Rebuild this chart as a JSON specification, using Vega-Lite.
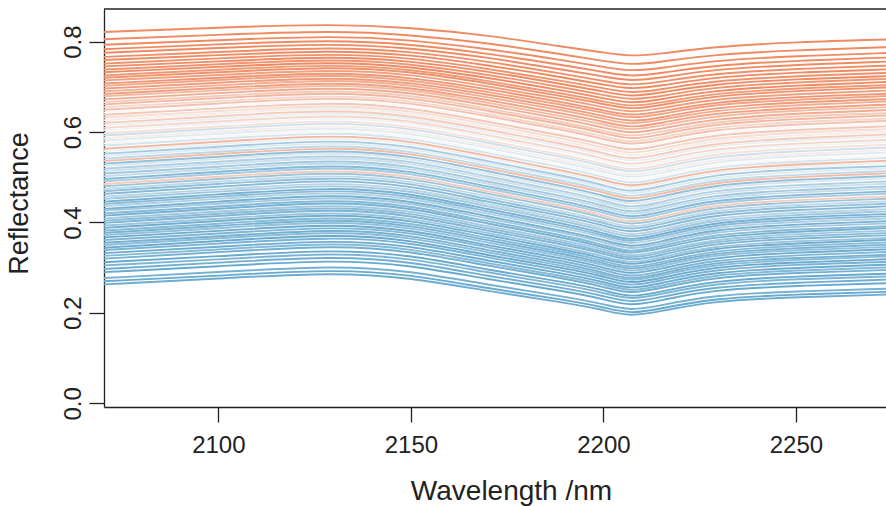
{
"$schema": "https://vega.github.io/schema/vega-lite/v6.json",
"width": 782, "height": 398,
"autosize": {"type": "none"},
"padding": {"left": 104, "top": 9, "right": 0, "bottom": 99},
"background": "white",
"config": {"view": {"stroke": null}, "font": "Liberation Sans"},
"datasets": {
"wl": [{"k":"2070","w":2070},{"k":"2100","w":2100},{"k":"2130","w":2130},{"k":"2150","w":2150},{"k":"2170","w":2170},{"k":"2190","w":2190},{"k":"2200","w":2200},{"k":"2207","w":2207},{"k":"2215","w":2215},{"k":"2228","w":2228},{"k":"2250","w":2250},{"k":"2275","w":2275}],
"sp": [
{"id":1,"c":0.02,"2070":0.263,"2100":0.276,"2130":0.290,"2150":0.278,"2170":0.248,"2190":0.223,"2200":0.207,"2207":0.191,"2215":0.204,"2228":0.226,"2250":0.235,"2275":0.241},
{"id":2,"c":0.0,"2070":0.270,"2100":0.282,"2130":0.297,"2150":0.285,"2170":0.254,"2190":0.229,"2200":0.213,"2207":0.197,"2215":0.210,"2228":0.232,"2250":0.241,"2275":0.247},
{"id":3,"c":0.05,"2070":0.277,"2100":0.290,"2130":0.305,"2150":0.293,"2170":0.262,"2190":0.236,"2200":0.220,"2207":0.204,"2215":0.217,"2228":0.239,"2250":0.248,"2275":0.254},
{"id":4,"c":0.0,"2070":0.290,"2100":0.303,"2130":0.318,"2150":0.306,"2170":0.274,"2190":0.248,"2200":0.231,"2207":0.214,"2215":0.228,"2228":0.251,"2250":0.260,"2275":0.266},
{"id":5,"c":0.03,"2070":0.297,"2100":0.311,"2130":0.326,"2150":0.314,"2170":0.281,"2190":0.255,"2200":0.238,"2207":0.221,"2215":0.235,"2228":0.258,"2250":0.267,"2275":0.274},
{"id":6,"c":0.08,"2070":0.305,"2100":0.318,"2130":0.334,"2150":0.321,"2170":0.289,"2190":0.262,"2200":0.245,"2207":0.228,"2215":0.242,"2228":0.265,"2250":0.275,"2275":0.281},
{"id":7,"c":0.0,"2070":0.312,"2100":0.325,"2130":0.341,"2150":0.328,"2170":0.295,"2190":0.268,"2200":0.251,"2207":0.233,"2215":0.247,"2228":0.271,"2250":0.281,"2275":0.287},
{"id":8,"c":0.04,"2070":0.320,"2100":0.334,"2130":0.350,"2150":0.337,"2170":0.304,"2190":0.276,"2200":0.258,"2207":0.241,"2215":0.255,"2228":0.279,"2250":0.289,"2275":0.295},
{"id":9,"c":0.1,"2070":0.326,"2100":0.340,"2130":0.356,"2150":0.343,"2170":0.309,"2190":0.281,"2200":0.264,"2207":0.246,"2215":0.260,"2228":0.285,"2250":0.294,"2275":0.301},
{"id":10,"c":0.02,"2070":0.332,"2100":0.346,"2130":0.362,"2150":0.349,"2170":0.315,"2190":0.287,"2200":0.269,"2207":0.251,"2215":0.266,"2228":0.290,"2250":0.300,"2275":0.307},
{"id":11,"c":0.06,"2070":0.339,"2100":0.353,"2130":0.369,"2150":0.356,"2170":0.322,"2190":0.293,"2200":0.275,"2207":0.257,"2215":0.272,"2228":0.296,"2250":0.307,"2275":0.313},
{"id":12,"c":0.0,"2070":0.344,"2100":0.359,"2130":0.375,"2150":0.362,"2170":0.327,"2190":0.299,"2200":0.281,"2207":0.263,"2215":0.277,"2228":0.302,"2250":0.312,"2275":0.319},
{"id":13,"c":0.12,"2070":0.350,"2100":0.365,"2130":0.381,"2150":0.368,"2170":0.333,"2190":0.304,"2200":0.286,"2207":0.268,"2215":0.283,"2228":0.307,"2250":0.318,"2275":0.325},
{"id":14,"c":0.05,"2070":0.355,"2100":0.369,"2130":0.386,"2150":0.373,"2170":0.338,"2190":0.309,"2200":0.290,"2207":0.272,"2215":0.287,"2228":0.312,"2250":0.322,"2275":0.329},
{"id":15,"c":0.08,"2070":0.361,"2100":0.375,"2130":0.392,"2150":0.379,"2170":0.344,"2190":0.314,"2200":0.296,"2207":0.277,"2215":0.292,"2228":0.317,"2250":0.328,"2275":0.335},
{"id":16,"c":0.02,"2070":0.367,"2100":0.381,"2130":0.398,"2150":0.384,"2170":0.349,"2190":0.320,"2200":0.301,"2207":0.283,"2215":0.298,"2228":0.323,"2250":0.334,"2275":0.341},
{"id":17,"c":0.15,"2070":0.372,"2100":0.387,"2130":0.404,"2150":0.390,"2170":0.355,"2190":0.325,"2200":0.307,"2207":0.288,"2215":0.303,"2228":0.329,"2250":0.339,"2275":0.346},
{"id":18,"c":0.06,"2070":0.377,"2100":0.392,"2130":0.409,"2150":0.395,"2170":0.360,"2190":0.330,"2200":0.311,"2207":0.293,"2215":0.308,"2228":0.333,"2250":0.344,"2275":0.351},
{"id":19,"c":0.1,"2070":0.382,"2100":0.397,"2130":0.414,"2150":0.400,"2170":0.365,"2190":0.335,"2200":0.316,"2207":0.297,"2215":0.312,"2228":0.338,"2250":0.349,"2275":0.356},
{"id":20,"c":0.03,"2070":0.388,"2100":0.403,"2130":0.420,"2150":0.406,"2170":0.371,"2190":0.340,"2200":0.321,"2207":0.303,"2215":0.318,"2228":0.344,"2250":0.354,"2275":0.362},
{"id":21,"c":0.18,"2070":0.393,"2100":0.408,"2130":0.425,"2150":0.411,"2170":0.376,"2190":0.345,"2200":0.326,"2207":0.307,"2215":0.323,"2228":0.348,"2250":0.359,"2275":0.366},
{"id":22,"c":0.08,"2070":0.399,"2100":0.414,"2130":0.431,"2150":0.417,"2170":0.381,"2190":0.351,"2200":0.332,"2207":0.313,"2215":0.328,"2228":0.354,"2250":0.365,"2275":0.372},
{"id":23,"c":0.12,"2070":0.404,"2100":0.419,"2130":0.436,"2150":0.422,"2170":0.386,"2190":0.356,"2200":0.336,"2207":0.318,"2215":0.333,"2228":0.359,"2250":0.370,"2275":0.377},
{"id":24,"c":0.2,"2070":0.409,"2100":0.424,"2130":0.441,"2150":0.427,"2170":0.391,"2190":0.360,"2200":0.341,"2207":0.322,"2215":0.337,"2228":0.363,"2250":0.375,"2275":0.382},
{"id":25,"c":0.05,"2070":0.415,"2100":0.430,"2130":0.447,"2150":0.433,"2170":0.397,"2190":0.366,"2200":0.346,"2207":0.328,"2215":0.343,"2228":0.369,"2250":0.380,"2275":0.388},
{"id":26,"c":0.1,"2070":0.420,"2100":0.435,"2130":0.452,"2150":0.438,"2170":0.402,"2190":0.371,"2200":0.351,"2207":0.332,"2215":0.348,"2228":0.374,"2250":0.385,"2275":0.392},
{"id":27,"c":0.2,"2070":0.426,"2100":0.441,"2130":0.458,"2150":0.444,"2170":0.408,"2190":0.377,"2200":0.357,"2207":0.338,"2215":0.353,"2228":0.380,"2250":0.391,"2275":0.398},
{"id":28,"c":0.05,"2070":0.430,"2100":0.446,"2130":0.463,"2150":0.449,"2170":0.413,"2190":0.381,"2200":0.362,"2207":0.343,"2215":0.358,"2228":0.385,"2250":0.396,"2275":0.403},
{"id":29,"c":0.25,"2070":0.436,"2100":0.452,"2130":0.469,"2150":0.455,"2170":0.419,"2190":0.387,"2200":0.368,"2207":0.349,"2215":0.364,"2228":0.390,"2250":0.402,"2275":0.409},
{"id":30,"c":0.12,"2070":0.441,"2100":0.457,"2130":0.474,"2150":0.460,"2170":0.424,"2190":0.392,"2200":0.372,"2207":0.354,"2215":0.369,"2228":0.395,"2250":0.407,"2275":0.414},
{"id":31,"c":0.05,"2070":0.446,"2100":0.462,"2130":0.479,"2150":0.465,"2170":0.429,"2190":0.397,"2200":0.377,"2207":0.358,"2215":0.374,"2228":0.400,"2250":0.412,"2275":0.419},
{"id":32,"c":0.2,"2070":0.452,"2100":0.468,"2130":0.485,"2150":0.471,"2170":0.435,"2190":0.403,"2200":0.383,"2207":0.364,"2215":0.379,"2228":0.406,"2250":0.417,"2275":0.425},
{"id":33,"c":0.28,"2070":0.457,"2100":0.473,"2130":0.490,"2150":0.476,"2170":0.440,"2190":0.408,"2200":0.388,"2207":0.369,"2215":0.384,"2228":0.411,"2250":0.422,"2275":0.430},
{"id":34,"c":0.1,"2070":0.463,"2100":0.479,"2130":0.496,"2150":0.482,"2170":0.445,"2190":0.414,"2200":0.394,"2207":0.375,"2215":0.390,"2228":0.417,"2250":0.428,"2275":0.436},
{"id":35,"c":0.15,"2070":0.469,"2100":0.485,"2130":0.502,"2150":0.488,"2170":0.451,"2190":0.419,"2200":0.400,"2207":0.381,"2215":0.396,"2228":0.423,"2250":0.434,"2275":0.442},
{"id":36,"c":0.3,"2070":0.474,"2100":0.490,"2130":0.507,"2150":0.493,"2170":0.457,"2190":0.424,"2200":0.405,"2207":0.386,"2215":0.401,"2228":0.428,"2250":0.439,"2275":0.447},
{"id":37,"c":0.18,"2070":0.480,"2100":0.496,"2130":0.513,"2150":0.499,"2170":0.463,"2190":0.431,"2200":0.411,"2207":0.392,"2215":0.407,"2228":0.434,"2250":0.445,"2275":0.453},
{"id":38,"c":0.7,"2070":0.485,"2100":0.501,"2130":0.518,"2150":0.504,"2170":0.468,"2190":0.436,"2200":0.416,"2207":0.397,"2215":0.412,"2228":0.439,"2250":0.450,"2275":0.458},
{"id":39,"c":0.22,"2070":0.491,"2100":0.507,"2130":0.524,"2150":0.510,"2170":0.474,"2190":0.442,"2200":0.422,"2207":0.403,"2215":0.418,"2228":0.445,"2250":0.456,"2275":0.464},
{"id":40,"c":0.1,"2070":0.496,"2100":0.512,"2130":0.529,"2150":0.515,"2170":0.479,"2190":0.447,"2200":0.427,"2207":0.408,"2215":0.423,"2228":0.450,"2250":0.461,"2275":0.469},
{"id":41,"c":0.32,"2070":0.502,"2100":0.518,"2130":0.535,"2150":0.521,"2170":0.485,"2190":0.453,"2200":0.433,"2207":0.414,"2215":0.429,"2228":0.456,"2250":0.467,"2275":0.475},
{"id":42,"c":0.2,"2070":0.508,"2100":0.523,"2130":0.540,"2150":0.526,"2170":0.490,"2190":0.458,"2200":0.438,"2207":0.419,"2215":0.434,"2228":0.461,"2250":0.472,"2275":0.480},
{"id":43,"c":0.35,"2070":0.514,"2100":0.529,"2130":0.546,"2150":0.532,"2170":0.496,"2190":0.464,"2200":0.444,"2207":0.425,"2215":0.440,"2228":0.467,"2250":0.478,"2275":0.486},
{"id":44,"c":0.25,"2070":0.519,"2100":0.534,"2130":0.551,"2150":0.537,"2170":0.501,"2190":0.469,"2200":0.449,"2207":0.430,"2215":0.445,"2228":0.472,"2250":0.483,"2275":0.491},
{"id":45,"c":0.4,"2070":0.525,"2100":0.540,"2130":0.557,"2150":0.543,"2170":0.507,"2190":0.475,"2200":0.455,"2207":0.437,"2215":0.451,"2228":0.478,"2250":0.490,"2275":0.498},
{"id":46,"c":0.15,"2070":0.530,"2100":0.545,"2130":0.562,"2150":0.548,"2170":0.513,"2190":0.480,"2200":0.460,"2207":0.442,"2215":0.457,"2228":0.483,"2250":0.495,"2275":0.503},
{"id":47,"c":0.78,"2070":0.536,"2100":0.551,"2130":0.568,"2150":0.554,"2170":0.519,"2190":0.486,"2200":0.467,"2207":0.448,"2215":0.463,"2228":0.489,"2250":0.501,"2275":0.509},
{"id":48,"c":0.3,"2070":0.541,"2100":0.556,"2130":0.573,"2150":0.559,"2170":0.524,"2190":0.492,"2200":0.472,"2207":0.454,"2215":0.468,"2228":0.494,"2250":0.506,"2275":0.514},
{"id":49,"c":0.42,"2070":0.547,"2100":0.562,"2130":0.579,"2150":0.565,"2170":0.530,"2190":0.498,"2200":0.478,"2207":0.460,"2215":0.474,"2228":0.500,"2250":0.512,"2275":0.520},
{"id":50,"c":0.22,"2070":0.552,"2100":0.567,"2130":0.584,"2150":0.570,"2170":0.535,"2190":0.503,"2200":0.483,"2207":0.465,"2215":0.480,"2228":0.506,"2250":0.518,"2275":0.525},
{"id":51,"c":0.45,"2070":0.558,"2100":0.573,"2130":0.590,"2150":0.576,"2170":0.542,"2190":0.509,"2200":0.490,"2207":0.472,"2215":0.486,"2228":0.512,"2250":0.524,"2275":0.532},
{"id":52,"c":0.8,"2070":0.563,"2100":0.578,"2130":0.595,"2150":0.581,"2170":0.547,"2190":0.514,"2200":0.495,"2207":0.477,"2215":0.491,"2228":0.517,"2250":0.529,"2275":0.537},
{"id":53,"c":0.38,"2070":0.570,"2100":0.585,"2130":0.601,"2150":0.587,"2170":0.553,"2190":0.521,"2200":0.501,"2207":0.483,"2215":0.497,"2228":0.523,"2250":0.535,"2275":0.543},
{"id":54,"c":0.5,"2070":0.575,"2100":0.590,"2130":0.606,"2150":0.592,"2170":0.558,"2190":0.526,"2200":0.507,"2207":0.489,"2215":0.503,"2228":0.528,"2250":0.540,"2275":0.548},
{"id":55,"c":0.42,"2070":0.581,"2100":0.596,"2130":0.612,"2150":0.598,"2170":0.565,"2190":0.532,"2200":0.513,"2207":0.496,"2215":0.509,"2228":0.535,"2250":0.547,"2275":0.555},
{"id":56,"c":0.55,"2070":0.586,"2100":0.601,"2130":0.617,"2150":0.603,"2170":0.570,"2190":0.538,"2200":0.518,"2207":0.501,"2215":0.515,"2228":0.540,"2250":0.552,"2275":0.560},
{"id":57,"c":0.35,"2070":0.592,"2100":0.607,"2130":0.623,"2150":0.609,"2170":0.576,"2190":0.544,"2200":0.525,"2207":0.508,"2215":0.521,"2228":0.546,"2250":0.558,"2275":0.566},
{"id":58,"c":0.6,"2070":0.597,"2100":0.612,"2130":0.628,"2150":0.614,"2170":0.581,"2190":0.549,"2200":0.530,"2207":0.513,"2215":0.527,"2228":0.552,"2250":0.564,"2275":0.572},
{"id":59,"c":0.48,"2070":0.604,"2100":0.618,"2130":0.634,"2150":0.621,"2170":0.588,"2190":0.556,"2200":0.537,"2207":0.520,"2215":0.533,"2228":0.558,"2250":0.570,"2275":0.578},
{"id":60,"c":0.65,"2070":0.609,"2100":0.623,"2130":0.639,"2150":0.626,"2170":0.593,"2190":0.561,"2200":0.542,"2207":0.525,"2215":0.539,"2228":0.563,"2250":0.575,"2275":0.583},
{"id":61,"c":0.45,"2070":0.615,"2100":0.629,"2130":0.645,"2150":0.632,"2170":0.599,"2190":0.568,"2200":0.549,"2207":0.532,"2215":0.545,"2228":0.570,"2250":0.582,"2275":0.590},
{"id":62,"c":0.7,"2070":0.620,"2100":0.635,"2130":0.650,"2150":0.637,"2170":0.605,"2190":0.573,"2200":0.554,"2207":0.537,"2215":0.551,"2228":0.575,"2250":0.587,"2275":0.595},
{"id":63,"c":0.55,"2070":0.626,"2100":0.641,"2130":0.656,"2150":0.643,"2170":0.611,"2190":0.579,"2200":0.561,"2207":0.544,"2215":0.557,"2228":0.582,"2250":0.593,"2275":0.601},
{"id":64,"c":0.62,"2070":0.632,"2100":0.646,"2130":0.661,"2150":0.648,"2170":0.617,"2190":0.585,"2200":0.566,"2207":0.550,"2215":0.563,"2228":0.587,"2250":0.599,"2275":0.607},
{"id":65,"c":0.72,"2070":0.638,"2100":0.652,"2130":0.667,"2150":0.654,"2170":0.623,"2190":0.591,"2200":0.573,"2207":0.557,"2215":0.570,"2228":0.594,"2250":0.605,"2275":0.613},
{"id":66,"c":0.5,"2070":0.643,"2100":0.657,"2130":0.672,"2150":0.659,"2170":0.628,"2190":0.597,"2200":0.579,"2207":0.563,"2215":0.575,"2228":0.599,"2250":0.611,"2275":0.619},
{"id":67,"c":0.75,"2070":0.649,"2100":0.663,"2130":0.678,"2150":0.665,"2170":0.635,"2190":0.604,"2200":0.585,"2207":0.570,"2215":0.582,"2228":0.606,"2250":0.617,"2275":0.625},
{"id":68,"c":0.65,"2070":0.655,"2100":0.668,"2130":0.683,"2150":0.670,"2170":0.640,"2190":0.609,"2200":0.591,"2207":0.575,"2215":0.588,"2228":0.611,"2250":0.623,"2275":0.630},
{"id":69,"c":0.8,"2070":0.661,"2100":0.675,"2130":0.689,"2150":0.676,"2170":0.647,"2190":0.616,"2200":0.598,"2207":0.582,"2215":0.594,"2228":0.618,"2250":0.629,"2275":0.637},
{"id":70,"c":0.7,"2070":0.666,"2100":0.680,"2130":0.694,"2150":0.682,"2170":0.652,"2190":0.621,"2200":0.603,"2207":0.588,"2215":0.600,"2228":0.623,"2250":0.635,"2275":0.642},
{"id":71,"c":0.85,"2070":0.672,"2100":0.686,"2130":0.700,"2150":0.688,"2170":0.659,"2190":0.628,"2200":0.610,"2207":0.595,"2215":0.607,"2228":0.629,"2250":0.641,"2275":0.649},
{"id":72,"c":0.78,"2070":0.679,"2100":0.692,"2130":0.706,"2150":0.694,"2170":0.665,"2190":0.634,"2200":0.617,"2207":0.602,"2215":0.614,"2228":0.636,"2250":0.648,"2275":0.655},
{"id":73,"c":0.9,"2070":0.684,"2100":0.697,"2130":0.711,"2150":0.699,"2170":0.671,"2190":0.640,"2200":0.623,"2207":0.608,"2215":0.620,"2228":0.642,"2250":0.653,"2275":0.661},
{"id":74,"c":0.84,"2070":0.690,"2100":0.703,"2130":0.717,"2150":0.705,"2170":0.677,"2190":0.647,"2200":0.630,"2207":0.615,"2215":0.627,"2228":0.648,"2250":0.660,"2275":0.668},
{"id":75,"c":0.92,"2070":0.696,"2100":0.709,"2130":0.722,"2150":0.710,"2170":0.683,"2190":0.653,"2200":0.636,"2207":0.621,"2215":0.632,"2228":0.654,"2250":0.666,"2275":0.673},
{"id":76,"c":0.88,"2070":0.702,"2100":0.715,"2130":0.728,"2150":0.716,"2170":0.689,"2190":0.659,"2200":0.643,"2207":0.629,"2215":0.639,"2228":0.661,"2250":0.672,"2275":0.680},
{"id":77,"c":0.95,"2070":0.707,"2100":0.720,"2130":0.733,"2150":0.721,"2170":0.695,"2190":0.665,"2200":0.648,"2207":0.635,"2215":0.645,"2228":0.666,"2250":0.678,"2275":0.685},
{"id":78,"c":0.9,"2070":0.714,"2100":0.726,"2130":0.739,"2150":0.728,"2170":0.701,"2190":0.672,"2200":0.655,"2207":0.642,"2215":0.652,"2228":0.673,"2250":0.684,"2275":0.692},
{"id":79,"c":0.97,"2070":0.720,"2100":0.732,"2130":0.745,"2150":0.734,"2170":0.708,"2190":0.678,"2200":0.662,"2207":0.649,"2215":0.659,"2228":0.680,"2250":0.691,"2275":0.699},
{"id":80,"c":0.93,"2070":0.725,"2100":0.738,"2130":0.750,"2150":0.739,"2170":0.713,"2190":0.684,"2200":0.668,"2207":0.655,"2215":0.665,"2228":0.685,"2250":0.697,"2275":0.704},
{"id":81,"c":1.0,"2070":0.732,"2100":0.744,"2130":0.756,"2150":0.745,"2170":0.720,"2190":0.691,"2200":0.675,"2207":0.662,"2215":0.672,"2228":0.692,"2250":0.703,"2275":0.711},
{"id":82,"c":0.95,"2070":0.738,"2100":0.750,"2130":0.762,"2150":0.751,"2170":0.727,"2190":0.698,"2200":0.682,"2207":0.670,"2215":0.679,"2228":0.699,"2250":0.710,"2275":0.718},
{"id":83,"c":1.0,"2070":0.745,"2100":0.756,"2130":0.768,"2150":0.757,"2170":0.734,"2190":0.705,"2200":0.690,"2207":0.677,"2215":0.687,"2228":0.706,"2250":0.717,"2275":0.724},
{"id":84,"c":0.97,"2070":0.751,"2100":0.763,"2130":0.774,"2150":0.764,"2170":0.740,"2190":0.712,"2200":0.697,"2207":0.685,"2215":0.694,"2228":0.713,"2250":0.724,"2275":0.731},
{"id":85,"c":1.0,"2070":0.759,"2100":0.770,"2130":0.781,"2150":0.771,"2170":0.748,"2190":0.720,"2200":0.705,"2207":0.694,"2215":0.702,"2228":0.721,"2250":0.732,"2275":0.739},
{"id":86,"c":0.98,"2070":0.766,"2100":0.777,"2130":0.788,"2150":0.778,"2170":0.756,"2190":0.728,"2200":0.713,"2207":0.702,"2215":0.711,"2228":0.729,"2250":0.740,"2275":0.747},
{"id":87,"c":1.0,"2070":0.775,"2100":0.786,"2130":0.796,"2150":0.786,"2170":0.765,"2190":0.737,"2200":0.723,"2207":0.712,"2215":0.720,"2228":0.738,"2250":0.749,"2275":0.756},
{"id":88,"c":1.0,"2070":0.783,"2100":0.794,"2130":0.804,"2150":0.794,"2170":0.774,"2190":0.747,"2200":0.733,"2207":0.722,"2215":0.730,"2228":0.747,"2250":0.758,"2275":0.765},
{"id":89,"c":1.0,"2070":0.793,"2100":0.803,"2130":0.813,"2150":0.804,"2170":0.784,"2190":0.758,"2200":0.744,"2207":0.734,"2215":0.741,"2228":0.758,"2250":0.768,"2275":0.775},
{"id":90,"c":1.0,"2070":0.805,"2100":0.815,"2130":0.824,"2150":0.815,"2170":0.797,"2190":0.771,"2200":0.757,"2207":0.748,"2215":0.755,"2228":0.771,"2250":0.781,"2275":0.788},
{"id":91,"c":1.0,"2070":0.821,"2100":0.831,"2130":0.839,"2150":0.831,"2170":0.814,"2190":0.788,"2200":0.776,"2207":0.767,"2215":0.773,"2228":0.788,"2250":0.799,"2275":0.805}
]
},
"layer": [
{
"data": {"name": "sp"},
"transform": [
{"fold": ["2070","2100","2130","2150","2170","2190","2200","2207","2215","2228","2250","2275"], "as": ["key", "r"]},
{"lookup": "key", "from": {"data": {"name": "wl"}, "key": "k", "fields": ["w"]}}
],
"mark": {"type": "line", "interpolate": "basis", "strokeWidth": 1.9, "clip": true},
"encoding": {
"x": {"field": "w", "type": "quantitative",
 "scale": {"domain": [2070.3, 2273.4], "nice": false, "zero": false},
 "axis": {"values": [2100, 2150, 2200, 2250], "format": "d", "grid": false,
  "domainColor": "#222222", "domainWidth": 1.3, "tickColor": "#222222", "tickWidth": 1.3, "tickSize": 15,
  "labelFont": "Liberation Sans", "labelFontSize": 24, "labelColor": "#222222", "labelPadding": 30.7,
  "labelBaseline": "alphabetic", "labelFlush": false, "labelOverlap": false,
  "title": "Wavelength /nm", "titleFont": "Liberation Sans", "titleFontSize": 28, "titleFontWeight": "normal",
  "titleColor": "#222222", "titleX": 407, "titleY": 92, "titleAlign": "center", "titleBaseline": "alphabetic"}},
"y": {"field": "r", "type": "quantitative",
 "scale": {"domain": [-0.008, 0.872], "nice": false, "zero": false},
 "axis": {"values": [0, 0.2, 0.4, 0.6, 0.8], "format": ".1f", "grid": false,
  "domainColor": "#222222", "domainWidth": 1.3, "tickColor": "#222222", "tickWidth": 1.3, "tickSize": 15,
  "labelFont": "Liberation Sans", "labelFontSize": 24, "labelColor": "#222222", "labelPadding": 9,
  "labelAngle": 270, "labelAlign": "center", "labelBaseline": "alphabetic", "labelOverlap": false,
  "title": "Reflectance", "titleFont": "Liberation Sans", "titleFontSize": 27, "titleFontWeight": "normal",
  "titleColor": "#222222", "titleAngle": 270, "titleX": -77, "titleY": 194, "titleAlign": "center", "titleBaseline": "alphabetic"}},
"color": {"field": "c", "type": "quantitative",
 "scale": {"domain": [0, 0.5, 1], "range": ["#67A9CF", "#F7F7F7", "#EF8A62"], "interpolate": "rgb"}, "legend": null},
"detail": {"field": "id", "type": "nominal"}
}
},
{
"data": {"values": [{"edge": "top"}]},
"mark": {"type": "rule", "color": "#222222", "strokeWidth": 1.3},
"encoding": {"y": {"datum": 0.872, "type": "quantitative"}}
}
]
}
